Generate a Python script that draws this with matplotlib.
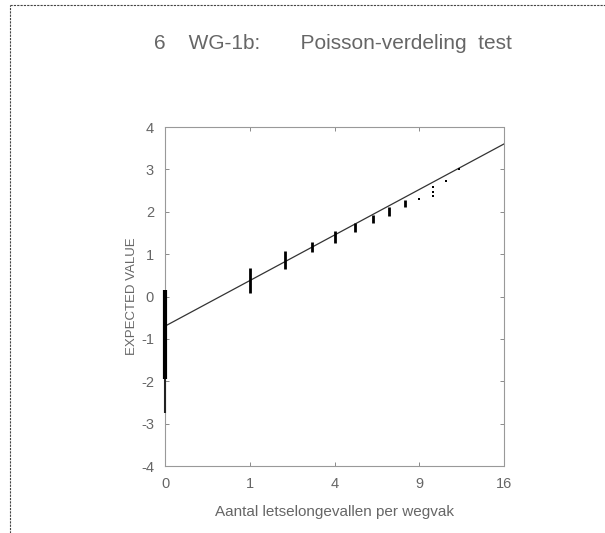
import numpy as np
from matplotlib import pyplot as plt
from matplotlib.lines import Line2D

plt.rcParams['font.family'] = ['Liberation Sans', 'DejaVu Sans']
plt.rcParams['axes.unicode_minus'] = False

# aantal letselongevallen per wegvak en bereik van de verwachte waarden
counts = [0, 1, 2, 3, 4, 5, 6, 7, 8]
ev_lo = [-1.95, 0.09, 0.65, 1.05, 1.26, 1.52, 1.73, 1.90, 2.11]
ev_hi = [0.15, 0.68, 1.07, 1.29, 1.55, 1.73, 1.92, 2.11, 2.28]

# dunne staart bij 0 ongevallen
tail_count = [0]
tail_lo = [-2.75]
tail_hi = [-1.95]

# losse punten bij hogere aantallen
pt_count = [9, 10, 10, 10, 11, 12]
pt_value = [2.29, 2.36, 2.47, 2.58, 2.73, 3.01]

# rechte lijn (in wortel-schaal)
intercept = -0.70
slope = 1.075

xticks = [0, 1, 4, 9, 16]
yticks = [-4, -3, -2, -1, 0, 1, 2, 3, 4]

grey = '#777777'
txt = '#666666'

fig = plt.figure(figsize=(6.05, 5.33), dpi=100)
ax = fig.add_axes([165 / 605, 67 / 533, 339 / 605, 339 / 533])

ax.set_xscale('function', functions=(lambda x: np.sqrt(np.clip(x, 0, None)),
                                     lambda x: np.square(x)))
ax.set_xlim(0, 16)
ax.set_ylim(-4, 4)

x_line = np.array([0, 16])
ax.plot(x_line, intercept + slope * np.sqrt(x_line), color='#333333', lw=0.9)

widths = [3] + [2] * (len(counts) - 1)
ax.vlines(counts, ev_lo, ev_hi, colors='black', linewidths=widths,
          clip_on=False, zorder=3)
ax.vlines(tail_count, tail_lo, tail_hi, colors='#222222', linewidths=1.5,
          clip_on=False, zorder=3)
ax.plot(pt_count, pt_value, 's', color='black', ms=1.6, mew=0)

ax.set_xticks(xticks)
ax.set_xticklabels([str(t) for t in xticks])
ax.set_yticks(yticks)
ax.minorticks_off()
ax.tick_params(direction='in', length=3, width=0.6, color=grey,
               labelcolor=txt, labelsize=10.5, pad=8,
               top=True, right=True)

for s in ax.spines.values():
    s.set_linestyle((0, (1, 1)))
    s.set_color('#999999')
    s.set_linewidth(0.8)

ax.set_xlabel('Aantal letselongevallen per wegvak', color=txt,
              fontsize=11, labelpad=10)
ax.set_ylabel('EXPECTED VALUE', color=txt, fontsize=9.5, labelpad=2)

fig.text(0.55, 1 - 43 / 533, '6    WG-1b:       Poisson-verdeling  test',
         ha='center', va='center', fontsize=15, color=txt)

# kaderlijnen van de scan
fig.add_artist(Line2D([10 / 605, 10 / 605], [0, 1 - 5 / 533],
                      color='#444444', lw=0.8, linestyle=(0, (2, 1))))
fig.add_artist(Line2D([10 / 605, 1], [1 - 5 / 533, 1 - 5 / 533],
                      color='#444444', lw=0.8, linestyle=(0, (2, 1))))

fig.savefig('out.png', dpi=100)
